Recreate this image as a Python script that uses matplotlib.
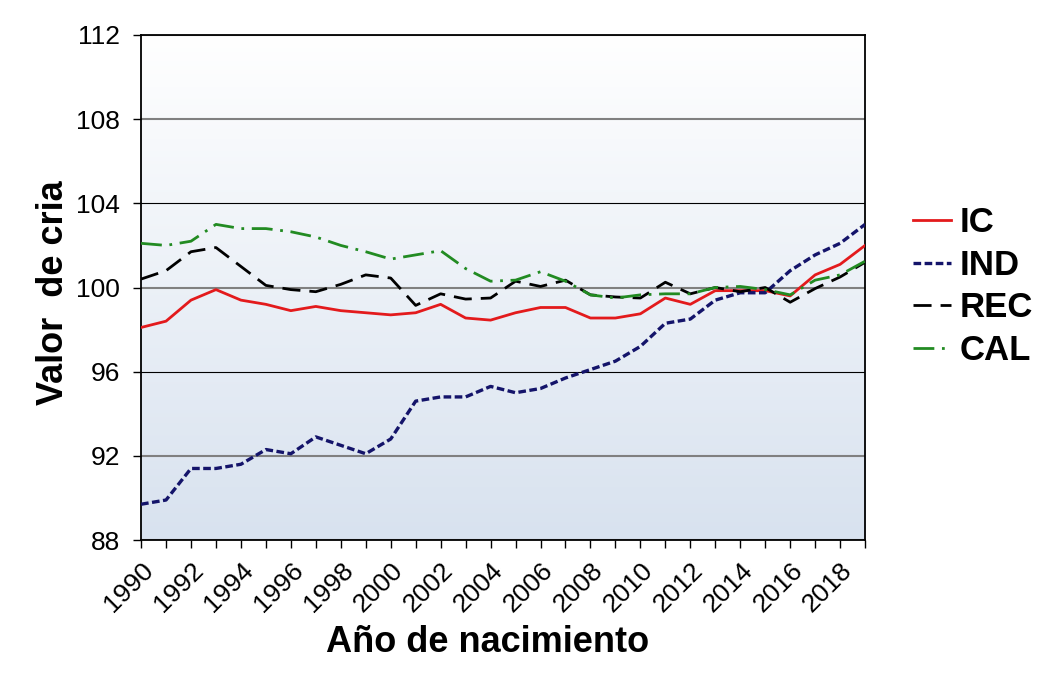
import numpy as np
import matplotlib as mpl
mpl.use('Agg')
import matplotlib.pyplot as plt
from matplotlib.colors import LinearSegmentedColormap

plt.rcParams['font.family'] = ['Liberation Sans', 'DejaVu Sans']
plt.rcParams['lines.scale_dashes'] = False

# data
years = list(range(1990, 2020))
ic  = [98.1, 98.4, 99.4, 99.9, 99.4, 99.2, 98.9, 99.1, 98.9, 98.8,
       98.7, 98.8, 99.2, 98.55, 98.45, 98.8, 99.05, 99.05, 98.55, 98.55,
       98.75, 99.5, 99.2, 99.85, 99.85, 99.85, 99.6, 100.6, 101.1, 102.0]
ind = [89.7, 89.9, 91.4, 91.4, 91.6, 92.3, 92.1, 92.9, 92.5, 92.1,
       92.8, 94.6, 94.8, 94.8, 95.3, 95.0, 95.2, 95.7, 96.1, 96.5,
       97.2, 98.3, 98.5, 99.4, 99.75, 99.75, 100.8, 101.55, 102.1, 103.0]
rec = [100.4, 100.8, 101.7, 101.9, 101.0, 100.1, 99.9, 99.8, 100.15, 100.6,
       100.45, 99.15, 99.7, 99.45, 99.5, 100.3, 100.05, 100.35, 99.65, 99.55,
       99.5, 100.25, 99.7, 100.0, 99.8, 100.0, 99.3, 99.95, 100.5, 101.2]
cal = [102.1, 102.0, 102.2, 103.0, 102.8, 102.8, 102.65, 102.4, 102.0, 101.7,
       101.35, 101.55, 101.75, 100.9, 100.3, 100.35, 100.75, 100.3, 99.65, 99.5,
       99.65, 99.7, 99.7, 100.0, 100.05, 99.9, 99.65, 100.35, 100.6, 101.25]
yticks = [88, 92, 96, 100, 104, 108, 112]
xlabels = [str(y) if y % 2 == 0 else '' for y in years]

fig = plt.figure(figsize=(10.41, 6.73), dpi=100)
ax = fig.add_axes([0.1355, 0.1976, 0.6955, 0.7504])

# white-to-light-blue plot background
cmap = LinearSegmentedColormap.from_list('bg', ['#d8e2ef', '#ffffff'])
grad = np.linspace(0, 1, 256).reshape(-1, 1)
ax.imshow(grad, cmap=cmap, origin='lower', aspect='auto',
          extent=[years[0], years[-1], yticks[0], yticks[-1]], zorder=0)

ax.plot(years, ic, color='#e31a1c', lw=2.0, label='IC', zorder=3)
ax.plot(years, ind, color='#14146a', lw=2.4, dashes=(5.5, 2.5), label='IND', zorder=3)
ax.plot(years, rec, color='black', lw=2.0, dashes=(13, 6.5), label='REC', zorder=3)
ax.plot(years, cal, color='#228b22', lw=2.0, dashes=(15, 5.5, 2, 5.5), label='CAL', zorder=3)

ax.set_xlim(years[0], years[-1])
ax.set_ylim(yticks[0], yticks[-1])
ax.set_yticks(yticks)
ax.set_xticks(years)
ax.set_xticklabels(xlabels, rotation=45, ha='right', va='top', rotation_mode='anchor')
ax.tick_params(axis='both', direction='out', length=6, width=1, labelsize=19, color='black')
ax.tick_params(axis='x', pad=7)
ax.tick_params(axis='y', pad=9)

ax.grid(axis='y', zorder=1)
for i, gl in enumerate(ax.yaxis.get_gridlines()):
    if yticks[i] in (96, 104):
        gl.set_color('black'); gl.set_linewidth(0.8)
    else:
        gl.set_color('#808080'); gl.set_linewidth(1.5)
ax.set_axisbelow(True)

for s in ax.spines.values():
    s.set_color('black')
    s.set_linewidth(1.3)

ax.set_xlabel('Año de nacimiento', fontsize=26, fontweight='bold')
ax.xaxis.set_label_coords(0.479, -0.168)
ax.set_ylabel('Valor  de cria', fontsize=26, fontweight='bold')
ax.yaxis.set_label_coords(-0.097, 0.49)

fig.legend(loc='upper left', bbox_to_anchor=(0.877, 0.694), frameon=False,
           prop={'weight': 'bold', 'size': 25}, handlelength=1.1,
           handletextpad=0.25, labelspacing=0.28, borderpad=0, borderaxespad=0)

plt.savefig('out.png', dpi=100)
